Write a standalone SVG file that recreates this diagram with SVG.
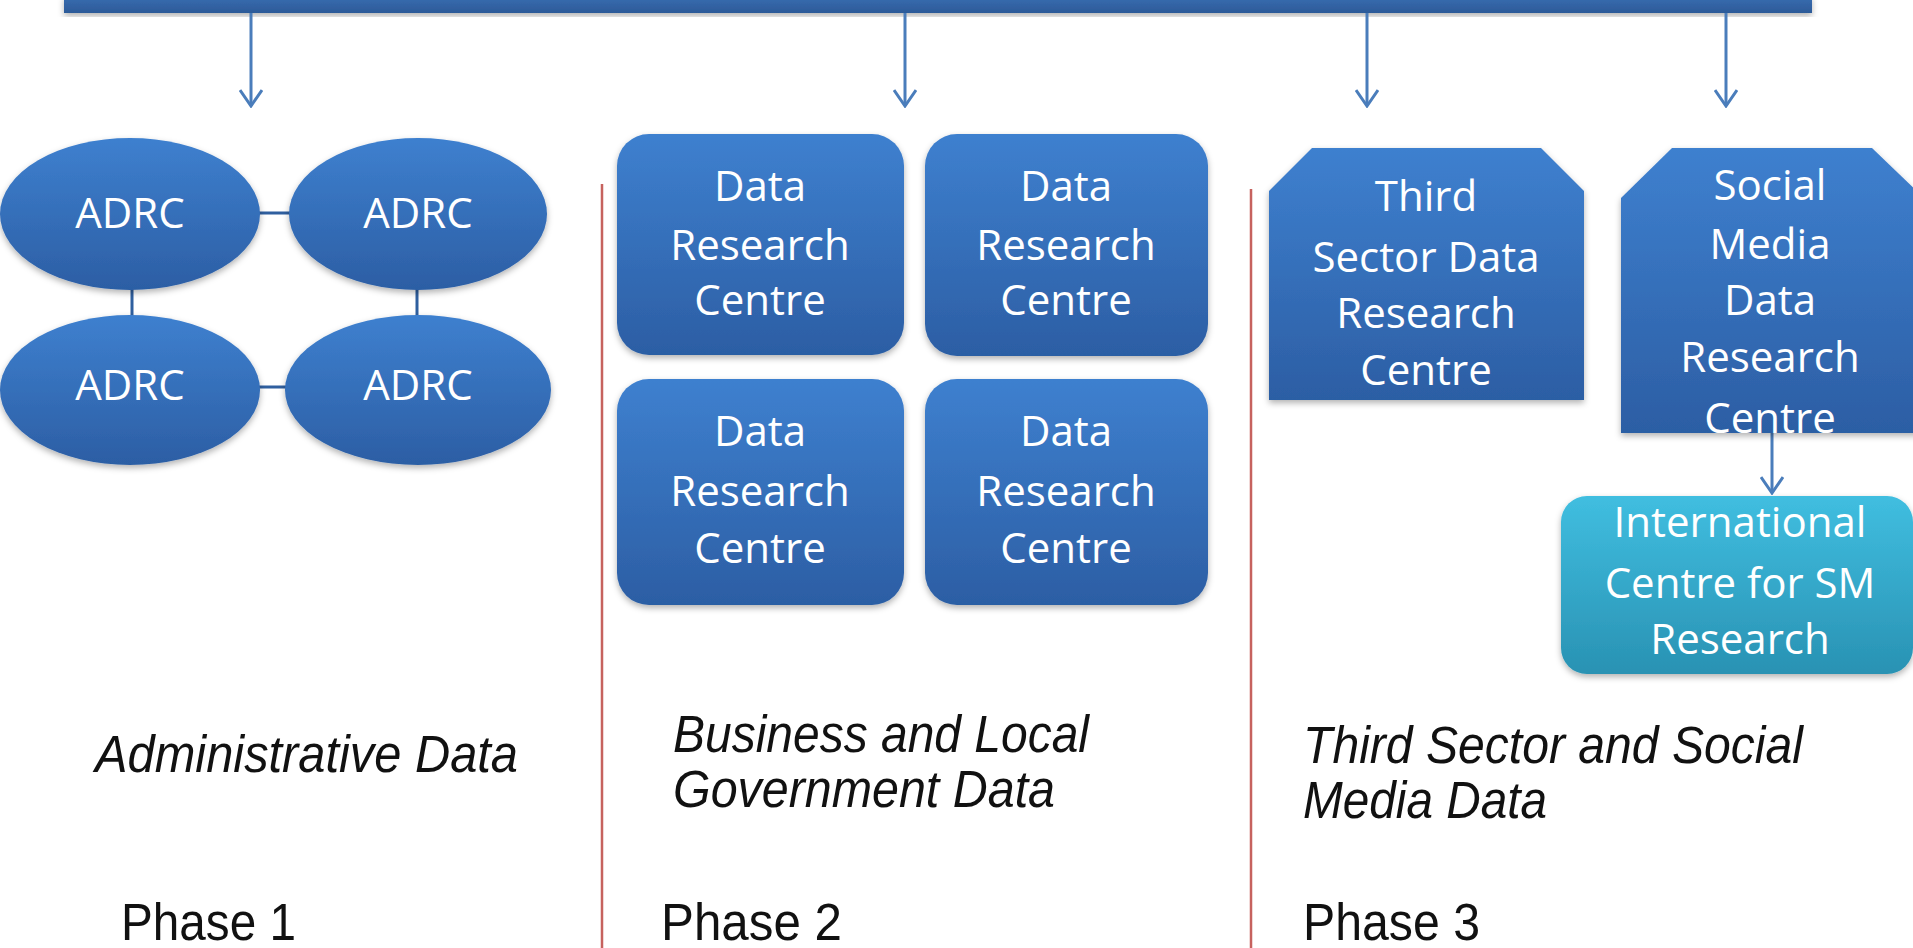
<svg xmlns="http://www.w3.org/2000/svg" width="1913" height="948" viewBox="0 0 1913 948">
<defs>
<linearGradient id="gBlue" x1="0" y1="0" x2="0" y2="1">
<stop offset="0" stop-color="#3e80cf"/>
<stop offset="1" stop-color="#2c5ea4"/>
</linearGradient>
<linearGradient id="gTeal" x1="0" y1="0" x2="0" y2="1">
<stop offset="0" stop-color="#40bee0"/>
<stop offset="1" stop-color="#2992b3"/>
</linearGradient>
<linearGradient id="gBar" x1="0" y1="0" x2="0" y2="1">
<stop offset="0" stop-color="#3a6eb2"/>
<stop offset="1" stop-color="#2c5a98"/>
</linearGradient>
<filter id="sh" x="-10%" y="-10%" width="120%" height="130%">
<feDropShadow dx="0" dy="3" stdDeviation="3" flood-color="#000" flood-opacity="0.3"/>
</filter>
<marker id="ah" viewBox="0 0 20 24" refX="18" refY="12" markerWidth="20" markerHeight="24" markerUnits="userSpaceOnUse" orient="auto">
<path d="M2,1 L18,12 L2,23" fill="none" stroke="#4a7dbb" stroke-width="3"/>
</marker>
</defs>
<style>
.node{fill:url(#gBlue);filter:url(#sh)}
.teal{fill:url(#gTeal);filter:url(#sh)}
.nt{font-family:"Open Sans","Noto Sans",sans-serif;font-size:42px;fill:#ffffff;text-anchor:middle}
.link{stroke:#2f5f9f;stroke-width:3;fill:none}
.arr{stroke:#4a7dbb;stroke-width:3;fill:none;marker-end:url(#ah)}
.sep{stroke:#c6625e;stroke-width:2.5}
.lab{font-family:"Liberation Sans",Arial,sans-serif;font-size:51px;font-style:italic;fill:#111}
.ph{font-family:"Liberation Sans",Arial,sans-serif;font-size:51px;fill:#111}
</style>
<rect width="1913" height="948" fill="#ffffff"/>

<g id="top-bar">
<rect x="64" y="-4" width="1748" height="17" fill="url(#gBar)" filter="url(#sh)"/>
</g>

<g id="separators">
<line class="sep" x1="602" y1="184" x2="602" y2="948"/>
<line class="sep" x1="1251" y1="189" x2="1251" y2="948"/>
</g>

<g id="connectors">
<line class="arr" x1="251" y1="13" x2="251" y2="106"/>
<line class="arr" x1="905" y1="13" x2="905" y2="106"/>
<line class="arr" x1="1367" y1="13" x2="1367" y2="106"/>
<line class="arr" x1="1726" y1="13" x2="1726" y2="106"/>
<line class="arr" x1="1772" y1="433" x2="1772" y2="493"/>
<line class="link" x1="255" y1="213" x2="292" y2="213"/>
<line class="link" x1="255" y1="387" x2="292" y2="387"/>
<line class="link" x1="132" y1="285" x2="132" y2="320"/>
<line class="link" x1="417" y1="285" x2="417" y2="320"/>
</g>

<g id="adrc-1">
<ellipse class="node" cx="130" cy="214" rx="130" ry="76"/>
<text class="nt" x="130" y="228">ADRC</text>
</g>
<g id="adrc-2">
<ellipse class="node" cx="418" cy="214" rx="129" ry="76"/>
<text class="nt" x="418" y="228">ADRC</text>
</g>
<g id="adrc-3">
<ellipse class="node" cx="130" cy="390" rx="130" ry="75"/>
<text class="nt" x="130" y="400">ADRC</text>
</g>
<g id="adrc-4">
<ellipse class="node" cx="418" cy="390" rx="133" ry="75"/>
<text class="nt" x="418" y="400">ADRC</text>
</g>

<g id="drc-1">
<rect class="node" x="617" y="134" width="287" height="221" rx="32"/>
<text class="nt" x="760" y="201">Data</text>
<text class="nt" x="760" y="260">Research</text>
<text class="nt" x="760" y="315">Centre</text>
</g>
<g id="drc-2">
<rect class="node" x="925" y="134" width="283" height="222" rx="32"/>
<text class="nt" x="1066" y="201">Data</text>
<text class="nt" x="1066" y="260">Research</text>
<text class="nt" x="1066" y="315">Centre</text>
</g>
<g id="drc-3">
<rect class="node" x="617" y="379" width="287" height="226" rx="32"/>
<text class="nt" x="760" y="446">Data</text>
<text class="nt" x="760" y="506">Research</text>
<text class="nt" x="760" y="563">Centre</text>
</g>
<g id="drc-4">
<rect class="node" x="925" y="379" width="283" height="226" rx="32"/>
<text class="nt" x="1066" y="446">Data</text>
<text class="nt" x="1066" y="506">Research</text>
<text class="nt" x="1066" y="563">Centre</text>
</g>

<g id="third-sector">
<path class="node" d="M1312,148 L1541,148 L1584,191 L1584,400 L1269,400 L1269,191 Z"/>
<text class="nt" x="1426" y="211">Third</text>
<text class="nt" x="1426" y="272">Sector Data</text>
<text class="nt" x="1426" y="328">Research</text>
<text class="nt" x="1426" y="385">Centre</text>
</g>

<g id="social-media">
<path class="node" d="M1672,148 L1872,148 L1924,198 L1924,433 L1621,433 L1621,198 Z"/>
<text class="nt" x="1770" y="200">Social</text>
<text class="nt" x="1770" y="259">Media</text>
<text class="nt" x="1770" y="315">Data</text>
<text class="nt" x="1770" y="372">Research</text>
<text class="nt" x="1770" y="433">Centre</text>
</g>

<g id="international">
<rect class="teal" x="1561" y="496" width="352" height="178" rx="26"/>
<text class="nt" x="1740" y="537">International</text>
<text class="nt" x="1740" y="598">Centre for SM</text>
<text class="nt" x="1740" y="654">Research</text>
</g>

<g id="labels">
<text class="lab" x="95" y="772" textLength="423" lengthAdjust="spacingAndGlyphs">Administrative Data</text>
<text class="lab" x="673" y="752" textLength="416" lengthAdjust="spacingAndGlyphs">Business and Local</text>
<text class="lab" x="673" y="807" textLength="382" lengthAdjust="spacingAndGlyphs">Government Data</text>
<text class="lab" x="1303" y="763" textLength="500" lengthAdjust="spacingAndGlyphs">Third Sector and Social</text>
<text class="lab" x="1303" y="818" textLength="244" lengthAdjust="spacingAndGlyphs">Media Data</text>
<text class="ph" x="121" y="940" textLength="175" lengthAdjust="spacingAndGlyphs">Phase 1</text>
<text class="ph" x="661" y="940" textLength="181" lengthAdjust="spacingAndGlyphs">Phase 2</text>
<text class="ph" x="1303" y="940" textLength="177" lengthAdjust="spacingAndGlyphs">Phase 3</text>
</g>
</svg>
